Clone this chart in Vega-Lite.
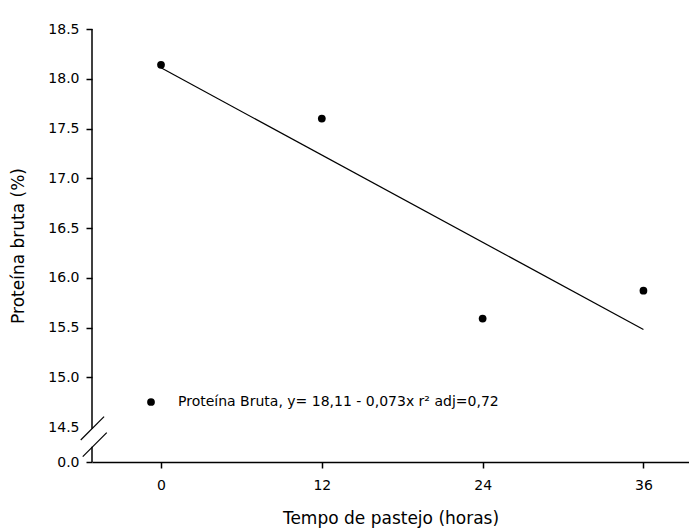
{
  "$schema": "https://vega.github.io/schema/vega-lite/v6.json",
  "width": 597,
  "height": 433,
  "autosize": {"type": "none"},
  "padding": {"left": 92, "top": 29, "right": 0, "bottom": 70},
  "background": "white",
  "config": {
    "view": {"stroke": null},
    "font": "DejaVu Sans",
    "axis": {
      "grid": false,
      "domainColor": "black",
      "domainWidth": 1.5,
      "tickColor": "black",
      "tickWidth": 1.5,
      "tickSize": 6,
      "labelColor": "black",
      "labelFont": "DejaVu Sans",
      "labelFontSize": 14,
      "titleColor": "black",
      "titleFont": "DejaVu Sans",
      "titleFontSize": 17,
      "titleFontWeight": "normal"
    },
    "legend": {
      "labelFont": "DejaVu Sans",
      "labelFontSize": 14,
      "labelColor": "black"
    }
  },
  "datasets": {
    "pontos": [
      {"tempo": 0, "proteina": 18.14},
      {"tempo": 12, "proteina": 17.6},
      {"tempo": 24, "proteina": 15.59},
      {"tempo": 36, "proteina": 15.87}
    ],
    "regressao": [
      {"tempo": 0, "proteina": 18.11},
      {"tempo": 36, "proteina": 15.48}
    ],
    "vazio": [{}]
  },
  "layer": [
    {
      "data": {"name": "regressao"},
      "mark": {"type": "line", "color": "black", "strokeWidth": 1.2},
      "encoding": {
        "x": {
          "field": "tempo",
          "type": "quantitative",
          "scale": {"domain": [-5.15, 39.4], "nice": false, "zero": false},
          "axis": {
            "values": [0, 12, 24, 36],
            "title": "Tempo de pastejo (horas)",
            "labelPadding": 10,
            "titlePadding": 18
          }
        },
        "y": {
          "field": "proteina",
          "type": "quantitative",
          "scale": {"domain": [0, 14.5, 18.5], "range": [433, 398, 0], "nice": false, "zero": false},
          "axis": {
            "values": [0, 14.5, 15, 15.5, 16, 16.5, 17, 17.5, 18, 18.5],
            "format": ".1f",
            "domain": false,
            "labelPadding": 7,
            "title": "Proteína bruta (%)",
            "titlePadding": 20,
            "tickOpacity": {"condition": {"test": "datum.value == 14.5", "value": 0}, "value": 1}
          }
        }
      }
    },
    {
      "data": {"name": "pontos"},
      "mark": {"type": "point", "filled": true, "shape": "circle", "size": 60, "opacity": 1},
      "encoding": {
        "x": {"field": "tempo", "type": "quantitative", "scale": {"domain": [-5.15, 39.4], "nice": false, "zero": false}},
        "y": {"field": "proteina", "type": "quantitative", "scale": {"domain": [0, 14.5, 18.5], "range": [433, 398, 0], "nice": false, "zero": false}},
        "color": {
          "datum": "Proteína Bruta, y= 18,11 - 0,073x  r² adj=0,72",
          "scale": {"range": ["black"]},
          "legend": {
            "title": null,
            "orient": "none",
            "legendX": 52,
            "legendY": 366,
            "padding": 0,
            "symbolType": "circle",
            "symbolSize": 60,
            "symbolFillColor": "black",
            "symbolStrokeWidth": 0,
            "labelOffset": 20,
            "labelLimit": 0
          }
        }
      }
    },
    {
      "data": {"name": "vazio"},
      "mark": {"type": "rule", "color": "black", "strokeWidth": 1.5},
      "encoding": {
        "x": {"datum": -5.15, "type": "quantitative", "scale": {"domain": [-5.15, 39.4], "nice": false, "zero": false}},
        "y": {"datum": 13.79, "type": "quantitative", "scale": {"domain": [0, 14.5, 18.5], "range": [433, 398, 0], "nice": false, "zero": false}},
        "y2": {"datum": 18.5}
      }
    },
    {
      "data": {"name": "vazio"},
      "mark": {"type": "rule", "color": "black", "strokeWidth": 1.5},
      "encoding": {
        "x": {"datum": -5.15, "type": "quantitative", "scale": {"domain": [-5.15, 39.4], "nice": false, "zero": false}},
        "y": {"datum": 0, "type": "quantitative", "scale": {"domain": [0, 14.5, 18.5], "range": [433, 398, 0], "nice": false, "zero": false}},
        "y2": {"datum": 6.34}
      }
    },
    {
      "data": {"name": "vazio"},
      "mark": {"type": "rule", "color": "black", "strokeWidth": 1.2},
      "encoding": {
        "x": {"datum": -5.99, "type": "quantitative", "scale": {"domain": [-5.15, 39.4], "nice": false, "zero": false}},
        "x2": {"datum": -4.25},
        "y": {"datum": 9.11, "type": "quantitative", "scale": {"domain": [0, 14.5, 18.5], "range": [433, 398, 0], "nice": false, "zero": false}},
        "y2": {"datum": 14.604}
      }
    },
    {
      "data": {"name": "vazio"},
      "mark": {"type": "rule", "color": "black", "strokeWidth": 1.2},
      "encoding": {
        "x": {"datum": -5.84, "type": "quantitative", "scale": {"domain": [-5.15, 39.4], "nice": false, "zero": false}},
        "x2": {"datum": -4.05},
        "y": {"datum": 2.2, "type": "quantitative", "scale": {"domain": [0, 14.5, 18.5], "range": [433, 398, 0], "nice": false, "zero": false}},
        "y2": {"datum": 12.14}
      }
    }
  ]
}
